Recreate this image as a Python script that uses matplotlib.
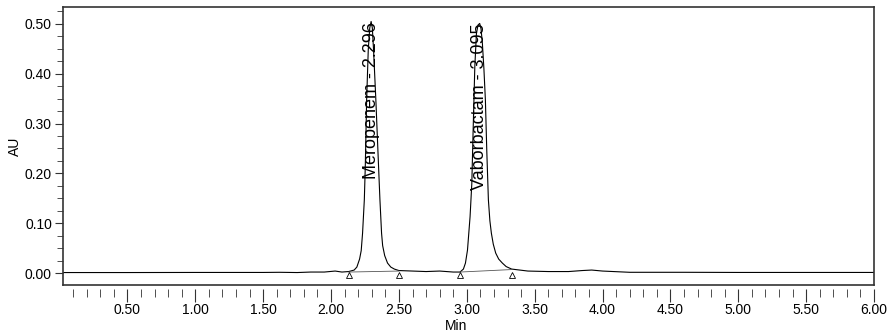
import matplotlib.pyplot as plt
import numpy as np

plt.rcParams['font.family'] = ['Liberation Sans', 'DejaVu Sans']

# chromatogram trace (Min, AU)
time = [0.03, 0.5, 1.0, 1.5, 1.62, 1.75, 1.85, 1.95, 2.03, 2.08, 2.13,
        2.17, 2.19, 2.21, 2.222, 2.232, 2.245, 2.252, 2.262, 2.274, 2.285,
        2.295, 2.304, 2.313, 2.33, 2.35, 2.36, 2.372, 2.38, 2.395, 2.416,
        2.44, 2.466, 2.50, 2.6, 2.7, 2.8, 2.9, 2.95,
        2.975, 2.99, 3.005, 3.024, 3.037, 3.046, 3.059, 3.071, 3.083, 3.095,
        3.105, 3.115, 3.126, 3.137, 3.147, 3.159, 3.17, 3.181, 3.195, 3.213,
        3.235, 3.262, 3.29, 3.33, 3.45, 3.6, 3.75, 3.85, 3.92, 4.0, 4.2,
        4.6, 5.0, 5.5, 6.0]
au = [0.001, 0.001, 0.0012, 0.0012, 0.0015, 0.001, 0.002, 0.002, 0.004, 0.002, 0.003,
      0.006, 0.012, 0.028, 0.045, 0.08, 0.147, 0.213, 0.347, 0.448, 0.492,
      0.505, 0.492, 0.448, 0.347, 0.213, 0.147, 0.08, 0.055, 0.035, 0.02,
      0.012, 0.008, 0.005, 0.004, 0.003, 0.004, 0.002, 0.002,
      0.008, 0.02, 0.046, 0.113, 0.18, 0.28, 0.414, 0.481, 0.498, 0.501,
      0.49, 0.46, 0.41, 0.347, 0.247, 0.147, 0.105, 0.08, 0.058, 0.04,
      0.028, 0.02, 0.013, 0.008, 0.004, 0.003, 0.003, 0.005, 0.006, 0.004, 0.0015,
      0.0015, 0.0012, 0.0012, 0.0012]

# peaks: name, retention time, apex height, baseline start/end
peak_names = ['Meropenem', 'Vaborbactam']
peak_rt = [2.296, 3.095]
peak_top = [0.504, 0.502]
base_start = [2.13, 2.95]
base_end = [2.50, 3.33]
base_start_y = [0.002, 0.002]
base_end_y = [0.004, 0.007]

fig = plt.figure(figsize=(8.94, 3.35), dpi=100)
ax = fig.add_axes([63 / 894, 50 / 335, 811 / 894, 278 / 335])

ax.plot(time, au, color='black', lw=0.8)

# integration baselines and markers
for i in range(len(peak_names)):
    ax.plot([base_start[i], base_end[i]], [base_start_y[i], base_end_y[i]],
            color='#555555', lw=0.6)
    ax.plot([base_start[i], base_end[i]], [-0.004, -0.004], ls='none',
            marker='^', ms=5, mfc='white', mec='black', mew=0.6)
    ax.text(peak_rt[i], peak_top[i], f'{peak_names[i]} - {peak_rt[i]:.3f}',
            rotation=90, ha='center', va='top', fontsize=13)

ax.set_xlim(0.025, 6.0)
ax.set_ylim(-0.024, 0.534)
ax.set_xticks(np.arange(0.5, 6.01, 0.5))
ax.set_xticks(np.arange(0.1, 6.0, 0.1), minor=True)
ax.set_yticks(np.arange(0, 0.51, 0.1))
ax.set_yticks(np.arange(0, 0.534, 0.025), minor=True)
ax.xaxis.set_major_formatter(plt.FormatStrFormatter('%.2f'))
ax.yaxis.set_major_formatter(plt.FormatStrFormatter('%.2f'))

ax.tick_params(axis='both', which='major', labelsize=10, color='#333333')
ax.tick_params(axis='y', which='major', length=6, pad=2)
ax.tick_params(axis='y', which='minor', length=4, color='#333333')
ax.tick_params(axis='x', which='major', length=9, pad=1)
ax.tick_params(axis='x', which='minor', length=6, color='#333333')

# x ticks sit a little below the frame
ax.spines['bottom'].set_position(('outward', 3))
ax.spines['bottom'].set_visible(False)
ax.plot([0, 1], [0, 0], transform=ax.transAxes, color='#333333', lw=1.2,
        clip_on=False)
for s in ['left', 'top', 'right']:
    ax.spines[s].set_color('#333333')
    ax.spines[s].set_linewidth(1.2)

ax.set_ylabel('AU', fontsize=10)
ax.yaxis.set_label_coords((22 - 63) / 811, 0.5)
ax.set_xlabel('Min', fontsize=10)
ax.xaxis.set_label_coords((456 - 63) / 811, -(319 - 285) / 278)

fig.savefig('out.png', dpi=100)
